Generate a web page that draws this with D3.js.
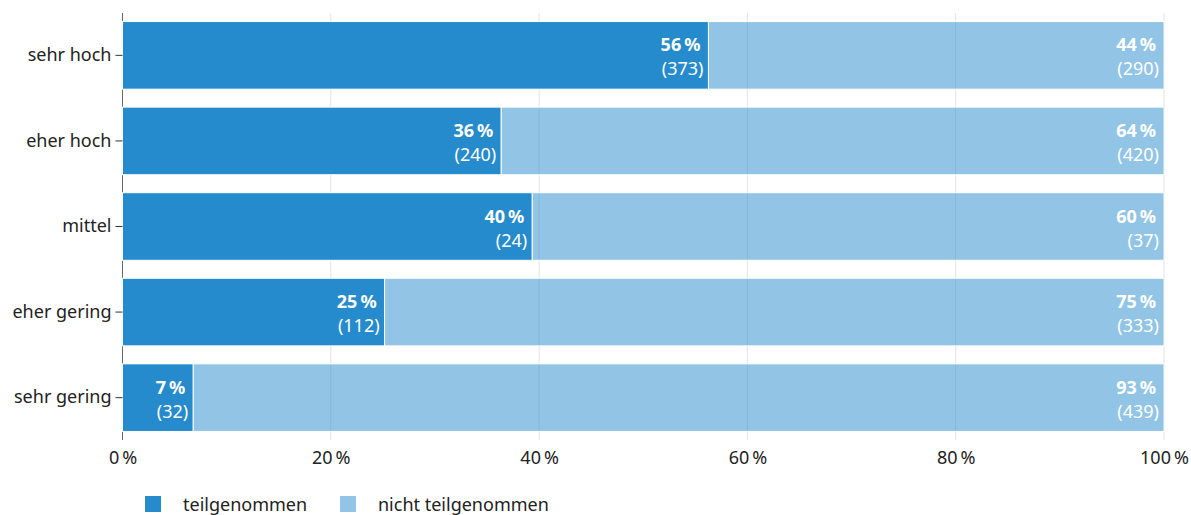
<!DOCTYPE html>
<html>
<head>
<meta charset="utf-8">
<script src="https://cdn.jsdelivr.net/npm/d3@7"></script>
<style>
body { margin: 0; background: #fff; overflow: hidden; }
text { font-family: "Noto Sans", "Open Sans", sans-serif; }
</style>
</head>
<body>
<svg id="chart"></svg>
<script>
var categories = ["sehr hoch", "eher hoch", "mittel", "eher gering", "sehr gering"]
var teilgenommen = [373, 240, 24, 112, 32]
var nichtTeilgenommen = [290, 420, 37, 333, 439]
var pctTeilgenommen = [56, 36, 40, 25, 7]
var pctNichtTeilgenommen = [44, 64, 60, 75, 93]
var seriesNames = ["teilgenommen", "nicht teilgenommen"]
var xTicks = [0, 0.2, 0.4, 0.6, 0.8, 1]

var width = 1191, height = 515
var margin = ({top: 13, right: 27, bottom: 75, left: 122.5})
var blue = "#268bcc"

var svg = d3.select("#chart").attr("width", width).attr("height", height)

var rows = categories.map(function(c, i) {
    var total = teilgenommen[i] + nichtTeilgenommen[i]
    return {name: c, a: teilgenommen[i], b: nichtTeilgenommen[i],
        pa: teilgenommen[i] / total, la: pctTeilgenommen[i], lb: pctNichtTeilgenommen[i]}
})

var x = d3.scaleLinear().domain([0, 1]).range([margin.left, width - margin.right])
var y = d3.scaleBand().domain(categories)
    .range([margin.top, height - margin.bottom])
    .paddingInner(0.21).paddingOuter(0.1)

// gridlines
svg.append("g")
    .selectAll("line")
    .data(xTicks.slice(1))
    .join("line")
    .attr("x1", d => x(d)).attr("x2", d => x(d))
    .attr("y1", margin.top).attr("y2", height - margin.bottom)
    .attr("stroke", "#e3e3e3").attr("stroke-width", 1)

// y axis line
svg.append("line")
    .attr("x1", margin.left).attr("x2", margin.left)
    .attr("y1", margin.top).attr("y2", height - margin.bottom)
    .attr("stroke", "#666").attr("stroke-width", 1)

var g = svg.append("g")
    .selectAll("g")
    .data(rows)
    .join("g")

g.append("rect")
    .attr("x", x(0))
    .attr("y", d => y(d.name))
    .attr("width", d => x(d.pa) - x(0))
    .attr("height", y.bandwidth())
    .attr("fill", blue)
    .attr("stroke", "#fff").attr("stroke-width", 1)

g.append("rect")
    .attr("x", d => x(d.pa))
    .attr("y", d => y(d.name))
    .attr("width", d => x(1) - x(d.pa))
    .attr("height", y.bandwidth())
    .attr("fill", blue).attr("fill-opacity", 0.5)
    .attr("stroke", "#fff").attr("stroke-width", 1)

var pct = d => d + "\u202F%"

function labels(sel, end, lab, cnt) {
    sel.append("text")
        .attr("x", d => x(end(d)) - 8)
        .attr("y", d => y(d.name) + y.bandwidth() / 2 - 4)
        .attr("text-anchor", "end")
        .attr("font-size", 18).attr("font-weight", "bold")
        .attr("fill", "#fff")
        .text(d => pct(lab(d)))
    sel.append("text")
        .attr("x", d => x(end(d)) - 5)
        .attr("y", d => y(d.name) + y.bandwidth() / 2 + 20)
        .attr("text-anchor", "end")
        .attr("font-size", 18)
        .attr("fill", "#fff")
        .text(d => "(" + cnt(d) + ")")
}
labels(g, d => d.pa, d => d.la, d => d.a)
labels(g, d => 1, d => d.lb, d => d.b)

// y axis labels
var yAxis = svg.append("g")
    .attr("transform", `translate(${margin.left},0)`)
    .call(d3.axisLeft(y).tickSize(7).tickPadding(4))
yAxis.select(".domain").remove()
yAxis.selectAll(".tick line").attr("stroke", "#333")
yAxis.selectAll("text").attr("font-size", 18).attr("fill", "#222")
    .style("font-family", "'Noto Sans', sans-serif")

// x axis labels
var xAxis = svg.append("g")
    .attr("transform", `translate(0,${height - margin.bottom})`)
    .call(d3.axisBottom(x).tickValues(xTicks).tickFormat(d => pct(Math.round(d * 100))).tickSize(0).tickPadding(11))
xAxis.select(".domain").remove()
xAxis.selectAll("text").attr("font-size", 18).attr("fill", "#222")
    .style("font-family", "'Noto Sans', sans-serif")

// legend
var legend = svg.append("g")
    .attr("transform", "translate(145,496)")
var lx = [0, 195]
legend.selectAll("rect")
    .data(seriesNames)
    .join("rect")
    .attr("x", (d, i) => lx[i]).attr("y", 0)
    .attr("width", 16).attr("height", 16)
    .attr("fill", blue)
    .attr("fill-opacity", (d, i) => i == 0 ? 1 : 0.5)
legend.selectAll("text")
    .data(seriesNames)
    .join("text")
    .attr("x", (d, i) => lx[i] + 38).attr("y", 15)
    .attr("font-size", 18).attr("fill", "#222")
    .text(d => d)
</script>
</body>
</html>
